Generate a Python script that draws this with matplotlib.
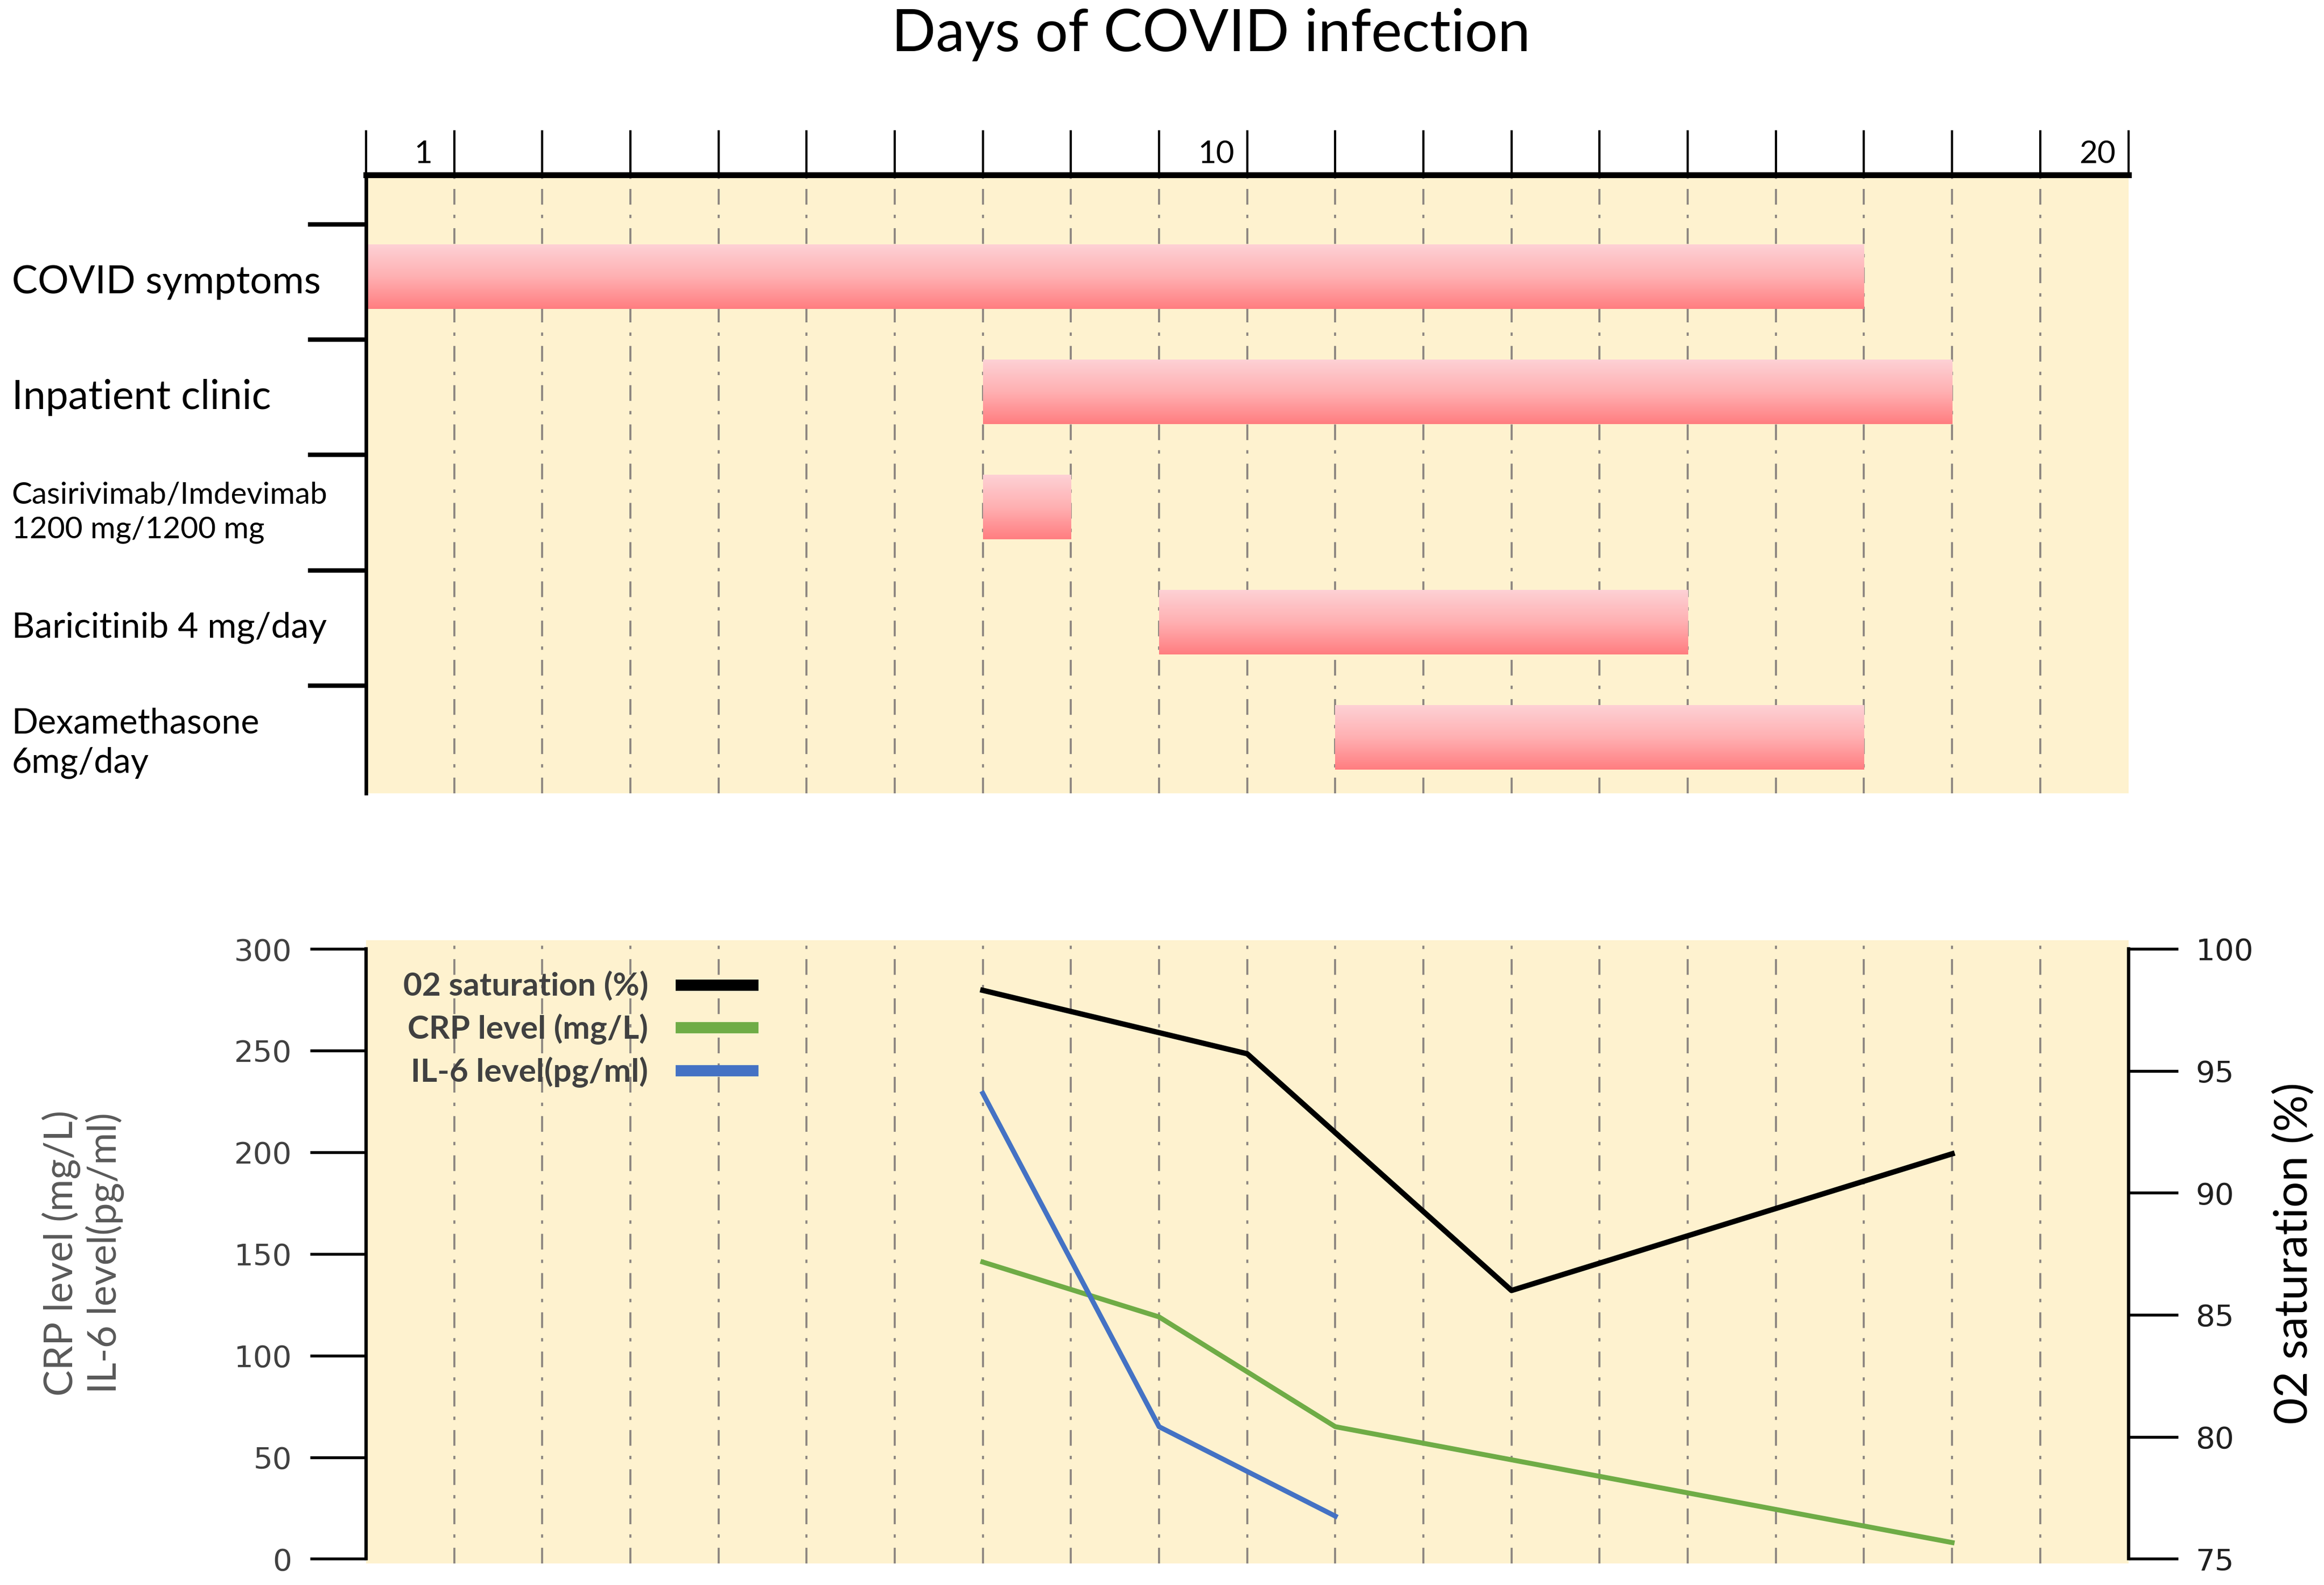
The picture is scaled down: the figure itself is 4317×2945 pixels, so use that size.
import numpy as np
import matplotlib
matplotlib.use('Agg')
import matplotlib.pyplot as plt
import matplotlib.transforms as mtrans
from matplotlib.colors import LinearSegmentedColormap
from matplotlib.lines import Line2D

plt.rcParams['font.family'] = ['Lato', 'DejaVu Sans']
plt.rcParams['lines.scale_dashes'] = False

# timeline rows (top panel): first and last day of each bar
rows = ['COVID symptoms', 'Inpatient clinic', 'Casirivimab/Imdevimab\n1200 mg/1200 mg',
        'Baricitinib 4 mg/day', 'Dexamethasone\n6mg/day']
first_day = [1, 8, 8, 10, 12]
last_day = [17, 18, 8, 15, 17]
ruler_labels = [1, 10, 20]
n_days = 20

# lab values (bottom panel), measured at the start of the given day
o2_day = [8, 11, 14, 19]
o2_sat = [98.3, 95.7, 86.0, 91.6]
crp_day = [8, 10, 12, 19]
crp_level = [146, 119, 65, 8]
il6_day = [8, 10, 12]
il6_level = [229, 65, 21]

# styles
beige = '#FEF2CF'
grid_col = '#8C8580'
grid_dash = (0, (7, 4.5, 1.5, 4.5))
label_sizes = [17.3, 18, 13.6, 15.8, 15.5]
bar_cmap = LinearSegmentedColormap.from_list('bar', ['#FDD1D5', '#FFB0B2', '#FF7D80'])

fig = plt.figure(figsize=(4317 / 300, 2945 / 300), dpi=300)
fig.text(0.521, 0.978, 'Days of COVID infection', fontsize=26, ha='center', va='center')

# ---------- top panel: timeline ----------
ax = fig.add_axes([0.1575, 0.4995, 0.7583, 0.3901])
ax.set_facecolor(beige)
n = len(rows)
grad = np.linspace(0, 1, 256).reshape(-1, 1)
for i in range(n):
    yc = n - i - 0.45
    ax.imshow(grad, cmap=bar_cmap, aspect='auto', interpolation='bicubic', zorder=2,
              extent=[first_day[i] - 1, last_day[i], yc - 0.28, yc + 0.28])
ax.vlines(range(1, n_days), 0, 1, transform=ax.get_xaxis_transform(), colors=grid_col,
          linewidth=0.9, linestyles=[grid_dash], zorder=1)
ax.set_xlim(0, n_days)
ax.set_ylim(0.065, 5.43)

ax.xaxis.tick_top()
ax.set_xticks(range(n_days + 1))
ax.set_xticklabels([])
ax.tick_params(axis='x', direction='out', length=20, width=1.0, color='black')
ax.set_yticks(range(1, n + 1))
ax.set_yticklabels([])
ax.tick_params(axis='y', direction='out', length=26, width=2.0, color='black')
ax.spines['top'].set_linewidth(2.6)
ax.spines['left'].set_linewidth(1.6)
ax.spines['right'].set_visible(False)
ax.spines['bottom'].set_visible(False)

for d in ruler_labels:
    ax.annotate(str(d), (d - 0.35, 1), xycoords=ax.get_xaxis_transform(), xytext=(0, 3),
                textcoords='offset points', ha='center', va='bottom', fontsize=14)

trans = mtrans.blended_transform_factory(fig.transFigure, ax.transData)
for i, label in enumerate(rows):
    ax.text(0.005, n - i - 0.5, label, transform=trans, ha='left', va='center',
            fontsize=label_sizes[i], linespacing=1.3, clip_on=False)

# ---------- bottom panel: lab values ----------
bx = fig.add_axes([0.1575, 0.0137, 0.7583, 0.3932])
bx.set_facecolor(beige)
bx.vlines(range(1, n_days), 0, 1, transform=bx.get_xaxis_transform(), colors=grid_col,
          linewidth=0.9, linestyles=[grid_dash], zorder=1)
bx.plot(np.array(crp_day) - 1, crp_level, color='#6FAC46', linewidth=2.2, zorder=3)
bx.plot(np.array(il6_day) - 1, il6_level, color='#4472C4', linewidth=2.2, zorder=3)
bx.set_xlim(0, n_days)
bx.set_ylim(-2.2, 304.4)
bx.set_xticks([])
bx.set_yticks(range(0, 301, 50))
bx.tick_params(axis='y', direction='out', length=25, width=1.3, pad=8, labelsize=13.5,
               labelcolor='#404040')
for lbl in bx.get_yticklabels():
    lbl.set_fontfamily('DejaVu Sans')
bx.spines['left'].set_bounds(0, 300)
bx.spines['left'].set_linewidth(1.5)
for s in ['top', 'bottom', 'right']:
    bx.spines[s].set_visible(False)

bx2 = bx.twinx()
bx2.plot(np.array(o2_day) - 1, o2_sat, color='black', linewidth=2.4, zorder=3)
bx2.set_ylim(74.82, 100.36)
bx2.set_yticks(range(75, 101, 5))
bx2.tick_params(axis='y', direction='out', length=22, width=1.3, pad=8, labelsize=13.5,
                labelcolor='#202020')
for lbl in bx2.get_yticklabels():
    lbl.set_fontfamily('DejaVu Sans')
bx2.spines['right'].set_bounds(75, 100)
bx2.spines['right'].set_linewidth(1.5)
for s in ['top', 'bottom', 'left']:
    bx2.spines[s].set_visible(False)

handles = [Line2D([], [], color='black', linewidth=5),
           Line2D([], [], color='#6FAC46', linewidth=5),
           Line2D([], [], color='#4472C4', linewidth=5)]
leg = bx2.legend(handles, ['02 saturation (%)', 'CRP level (mg/L)', 'IL-6 level(pg/ml)'],
                 loc='upper left', bbox_to_anchor=(0.021, 0.95), frameon=False,
                 markerfirst=False, handlelength=2.2, handletextpad=1.0, labelspacing=0.37,
                 borderaxespad=0, borderpad=0, prop={'weight': 'bold', 'size': 14.5})
for t in leg.get_texts():
    t.set_color('#404040')

fig.text(0.0357, 0.2095, 'CRP level (mg/L)\nIL-6 level(pg/ml)', rotation=90, ha='center',
         va='center', fontsize=17.5, color='#595959', linespacing=1.15)
fig.text(0.987, 0.2095, '02 saturation (%)', rotation=90, ha='center', va='center',
         fontsize=20.5, color='black')

fig.savefig('out.png', dpi=300)
